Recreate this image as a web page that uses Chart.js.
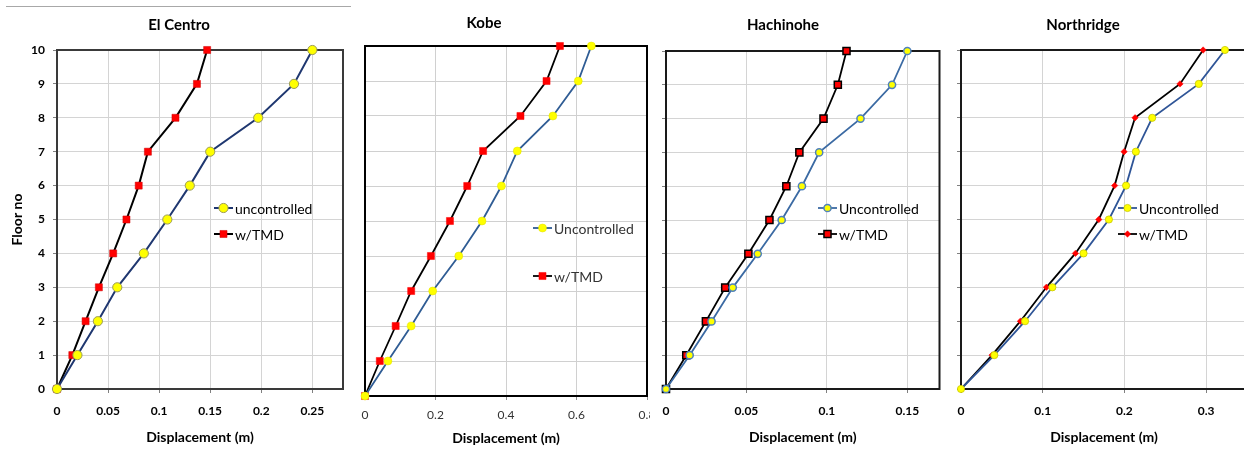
<!DOCTYPE html>
<html>
<head>
<meta charset="utf-8">
<script src="https://cdn.jsdelivr.net/npm/chart.js@4.4.1/dist/chart.umd.min.js"></script>
<style>
  html, body { margin: 0; padding: 0; background: #ffffff; }
  body { width: 1244px; height: 453px; overflow: hidden; position: relative; }
  .panel { position: absolute; }
  .panel canvas { display: block; }
  .rule { position: absolute; height: 0; border-top: 1px solid #a8a8a8; top: 6px; }
</style>
</head>
<body>
<div class="rule" style="left:6px; width:345px;"></div>
<div class="rule" style="left:653px; width:591px;"></div>

<script>
// ---------------- DATA ----------------
const floors = [0, 1, 2, 3, 4, 5, 6, 7, 8, 9, 10];

const elCentroUncontrolled = [0, 0.020, 0.040, 0.059, 0.085, 0.108, 0.130, 0.150, 0.197, 0.232, 0.250];
const elCentroTMD          = [0, 0.015, 0.028, 0.041, 0.055, 0.068, 0.080, 0.089, 0.116, 0.137, 0.147];

const kobeUncontrolled = [0, 0.065, 0.131, 0.192, 0.266, 0.332, 0.387, 0.432, 0.533, 0.605, 0.642];
const kobeTMD          = [0, 0.042, 0.087, 0.131, 0.187, 0.241, 0.290, 0.335, 0.441, 0.515, 0.553];

const hachinoheUncontrolled = [0, 0.0147, 0.0283, 0.0415, 0.0570, 0.0719, 0.0845, 0.0952, 0.1209, 0.1405, 0.1500];
const hachinoheTMD          = [0, 0.0126, 0.0248, 0.0368, 0.0512, 0.0643, 0.0748, 0.0829, 0.0979, 0.1068, 0.1122];

const northridgeUncontrolled = [0, 0.0408, 0.0784, 0.1118, 0.150, 0.181, 0.202, 0.214, 0.234, 0.291, 0.323];
const northridgeTMD          = [0, 0.0380, 0.0727, 0.1045, 0.140, 0.1686, 0.188, 0.1996, 0.213, 0.268, 0.2963];

const elCentroXTicks   = [0, 0.05, 0.1, 0.15, 0.2, 0.25];
const kobeXTicks       = [0, 0.2, 0.4, 0.6, 0.8];
const hachinoheXTicks  = [0, 0.05, 0.1, 0.15];
const northridgeXTicks = [0, 0.1, 0.2, 0.3];
const floorTicks       = [0, 1, 2, 3, 4, 5, 6, 7, 8, 9, 10];

const panelTitles = ['El Centro', 'Kobe', 'Hachinohe', 'Northridge'];
const xAxisTitle = 'Displacement (m)';
const yAxisTitle = 'Floor no';
const elCentroNames   = ['uncontrolled', 'w/TMD'];
const kobeNames       = ['Uncontrolled', 'w/TMD'];
const hachinoheNames  = ['Uncontrolled', 'w/TMD'];
const northridgeNames = ['Uncontrolled', 'w/TMD'];

// ---------------- DRAWING ----------------
const FONT = 'Lato, "Open Sans", "DejaVu Sans", sans-serif';

function drawMarker(ctx, ds, x, y) {
  const r = ds.pointRadius;
  ctx.save();
  ctx.fillStyle = ds.pointBackgroundColor;
  ctx.strokeStyle = ds.pointBorderColor;
  ctx.lineWidth = ds.pointBorderWidth;
  ctx.beginPath();
  if (ds.pointStyle === 'circle') {
    ctx.arc(x, y, r, 0, Math.PI * 2);
  } else if (ds.pointStyle === 'rect') {
    const s = Math.SQRT1_2 * r;
    ctx.rect(x - s, y - s, 2 * s, 2 * s);
  } else {
    ctx.moveTo(x, y - r); ctx.lineTo(x + r, y); ctx.lineTo(x, y + r); ctx.lineTo(x - r, y); ctx.closePath();
  }
  ctx.fill();
  if (ds.pointBorderWidth > 0) ctx.stroke();
  ctx.restore();
}

const decoPlugin = {
  id: 'panelDeco',
  beforeDatasetsDraw(chart, args, o) {
    const {ctx, chartArea: a} = chart;
    ctx.save();
    ctx.strokeStyle = o.frameColor;
    ctx.lineWidth = o.frameWidth;
    ctx.strokeRect(a.left, a.top, a.right - a.left, a.bottom - a.top);
    ctx.restore();
  },
  afterDraw(chart, args, o) {
    const {ctx} = chart;
    ctx.save();
    ctx.font = o.titleFont;
    ctx.fillStyle = o.titleColor;
    ctx.textAlign = 'center';
    ctx.textBaseline = 'middle';
    ctx.fillText(o.title, o.titleX, o.titleY);
    ctx.font = o.legendFont;
    ctx.textAlign = 'left';
    chart.data.datasets.forEach((ds, i) => {
      const y = o.legendY[i];
      const x0 = o.legendX, x1 = o.legendX + o.legendLine;
      ctx.strokeStyle = ds.borderColor;
      ctx.lineWidth = ds.borderWidth;
      ctx.beginPath(); ctx.moveTo(x0, y); ctx.lineTo(x1, y); ctx.stroke();
      drawMarker(ctx, ds, (x0 + x1) / 2, y);
      ctx.fillStyle = o.legendColor;
      ctx.fillText(ds.label, x1 + 2, y + 1);
    });
    ctx.restore();
  }
};

function makeSeries(label, values, style) {
  return Object.assign({
    label: label,
    data: floors.map((f, i) => ({x: values[i], y: f})),
    fill: false, tension: 0, clip: false
  }, style);
}

function makePanel(p) {
  const div = document.createElement('div');
  div.className = 'panel';
  div.style.left = p.left + 'px';
  div.style.top = p.top + 'px';
  div.style.width = p.width + 'px';
  div.style.height = p.height + 'px';
  div.style.background = p.bg;
  const canvas = document.createElement('canvas');
  canvas.width = p.width; canvas.height = p.height;
  canvas.style.width = p.width + 'px'; canvas.style.height = p.height + 'px';
  div.appendChild(canvas);
  document.body.appendChild(div);

  const tickFont = {family: FONT, size: 12, weight: p.tickWeight};
  new Chart(canvas, {
    type: 'line',
    data: {
      datasets: [
        makeSeries(p.names[0], p.unc, p.uncStyle),
        makeSeries(p.names[1], p.tmd, p.tmdStyle)
      ]
    },
    plugins: [decoPlugin],
    options: {
      responsive: false, animation: false, events: [],
      layout: {padding: {top: p.area.top, right: p.width - p.area.right, left: 0, bottom: 0}},
      plugins: {
        legend: {display: false},
        tooltip: {enabled: false},
        panelDeco: {
          frameColor: p.frameColor, frameWidth: 2,
          title: p.title, titleX: p.titleX, titleY: p.titleY,
          titleFont: 'bold 15px ' + FONT, titleColor: '#000',
          legendX: p.legendX, legendY: p.legendY, legendLine: 19,
          legendFont: '14px ' + FONT, legendColor: p.legendColor
        }
      },
      scales: {
        x: {
          type: 'linear', min: 0, max: p.xMax,
          afterBuildTicks: s => { s.ticks = p.xTicks.map(v => ({value: v})); },
          afterFit: s => { s.height = p.height - p.area.bottom; s.paddingLeft = 0; s.paddingRight = 0; },
          grid: {color: p.gridColor, lineWidth: 1, drawTicks: true, tickLength: 4, tickColor: p.tickColor},
          border: {display: false},
          ticks: {font: tickFont, color: p.tickColor2, padding: p.xTickPad, maxRotation: 0, autoSkip: false,
                  callback: v => String(v)},
          title: {display: true, text: xAxisTitle, color: '#000',
                  font: {family: FONT, size: 14, weight: 'bold'}, padding: {top: 0, bottom: p.xTitlePad}}
        },
        y: {
          type: 'linear', min: 0, max: 10,
          afterBuildTicks: s => { s.ticks = floorTicks.map(v => ({value: v})); },
          afterFit: s => { s.width = p.area.left; s.paddingTop = 0; s.paddingBottom = 0; },
          grid: {color: p.gridColor, lineWidth: 1, drawTicks: p.yTicks, tickLength: 4, tickColor: p.tickColor},
          border: {display: false},
          ticks: {display: p.yLabels, font: tickFont, color: '#000', padding: 8, callback: v => String(v)},
          title: {display: p.yLabels, text: yAxisTitle, color: '#000',
                  font: {family: FONT, size: 14, weight: 'bold'}, padding: {top: 8.6, bottom: 0}}
        }
      }
    }
  });
}

// El Centro
makePanel({
  left: 0, top: 0, width: 350, height: 453, bg: 'transparent',
  area: {left: 57, right: 343, top: 50, bottom: 389},
  xMax: 0.28, xTicks: elCentroXTicks, xTickPad: 11, xTitlePad: 7.6,
  yLabels: true, yTicks: true, tickWeight: 'bold', tickColor: '#808080', tickColor2: '#000',
  gridColor: '#d4d4d4', frameColor: '#3a3a3a',
  title: panelTitles[0], titleX: 179, titleY: 25,
  legendX: 214, legendY: [208, 234], legendColor: '#000',
  names: elCentroNames, unc: elCentroUncontrolled, tmd: elCentroTMD,
  uncStyle: {borderColor: '#1f3770', borderWidth: 2, pointStyle: 'circle', pointRadius: 4.6,
             pointBackgroundColor: '#ffff00', pointBorderColor: '#9a9a5a', pointBorderWidth: 1},
  tmdStyle: {borderColor: '#000000', borderWidth: 2, pointStyle: 'rect', pointRadius: 5,
             pointBackgroundColor: '#ff0000', pointBorderColor: '#cc0000', pointBorderWidth: 0.5}
});

// Kobe
makePanel({
  left: 351, top: 6, width: 302, height: 447, bg: '#ffffff',
  area: {left: 14, right: 296, top: 40, bottom: 390},
  xMax: 0.8, xTicks: kobeXTicks, xTickPad: 8, xTitlePad: 6.6,
  yLabels: false, yTicks: false, tickWeight: 'normal', tickColor: '#909090', tickColor2: '#333',
  gridColor: '#d0d0d0', frameColor: '#000',
  title: panelTitles[1], titleX: 133, titleY: 17,
  legendX: 182, legendY: [222, 270], legendColor: '#333',
  names: kobeNames, unc: kobeUncontrolled, tmd: kobeTMD,
  uncStyle: {borderColor: '#2f5c94', borderWidth: 1.8, pointStyle: 'circle', pointRadius: 4,
             pointBackgroundColor: '#ffff00', pointBorderColor: '#e0e000', pointBorderWidth: 0.5},
  tmdStyle: {borderColor: '#000000', borderWidth: 1.8, pointStyle: 'rect', pointRadius: 5,
             pointBackgroundColor: '#ff0000', pointBorderColor: '#ff0000', pointBorderWidth: 0.5}
});

// Hachinohe
makePanel({
  left: 650, top: 0, width: 296, height: 453, bg: '#ffffff',
  area: {left: 16, right: 291, top: 51, bottom: 389},
  xMax: 0.17, xTicks: hachinoheXTicks, xTickPad: 11, xTitlePad: 7.6,
  yLabels: false, yTicks: true, tickWeight: 'bold', tickColor: '#808080', tickColor2: '#000',
  gridColor: '#d4d4d4', frameColor: '#1a1a1a',
  title: panelTitles[2], titleX: 133, titleY: 25,
  legendX: 168, legendY: [208, 234], legendColor: '#000',
  names: hachinoheNames, unc: hachinoheUncontrolled, tmd: hachinoheTMD,
  uncStyle: {borderColor: '#3b6aa3', borderWidth: 1.8, pointStyle: 'circle', pointRadius: 3.6,
             pointBackgroundColor: '#ffff00', pointBorderColor: '#4f81bd', pointBorderWidth: 1.5},
  tmdStyle: {borderColor: '#000000', borderWidth: 1.8, pointStyle: 'rect', pointRadius: 5,
             pointBackgroundColor: '#ff0000', pointBorderColor: '#000000', pointBorderWidth: 1.5}
});

// Northridge
makePanel({
  left: 946, top: 0, width: 310, height: 453, bg: '#ffffff',
  area: {left: 15, right: 301, top: 50, bottom: 389},
  xMax: 0.35, xTicks: northridgeXTicks, xTickPad: 11, xTitlePad: 7.6,
  yLabels: false, yTicks: true, tickWeight: 'bold', tickColor: '#808080', tickColor2: '#000',
  gridColor: '#d4d4d4', frameColor: '#1a1a1a',
  title: panelTitles[3], titleX: 137, titleY: 25,
  legendX: 172, legendY: [208, 234], legendColor: '#000',
  names: northridgeNames, unc: northridgeUncontrolled, tmd: northridgeTMD,
  uncStyle: {borderColor: '#2f5597', borderWidth: 1.8, pointStyle: 'circle', pointRadius: 3.6,
             pointBackgroundColor: '#ffff00', pointBorderColor: '#c8c800', pointBorderWidth: 0.8},
  tmdStyle: {borderColor: '#000000', borderWidth: 1.8, pointStyle: 'rectRot', pointRadius: 3.2,
             pointBackgroundColor: '#ff0000', pointBorderColor: '#ff0000', pointBorderWidth: 0.5}
});
</script>
</body>
</html>
